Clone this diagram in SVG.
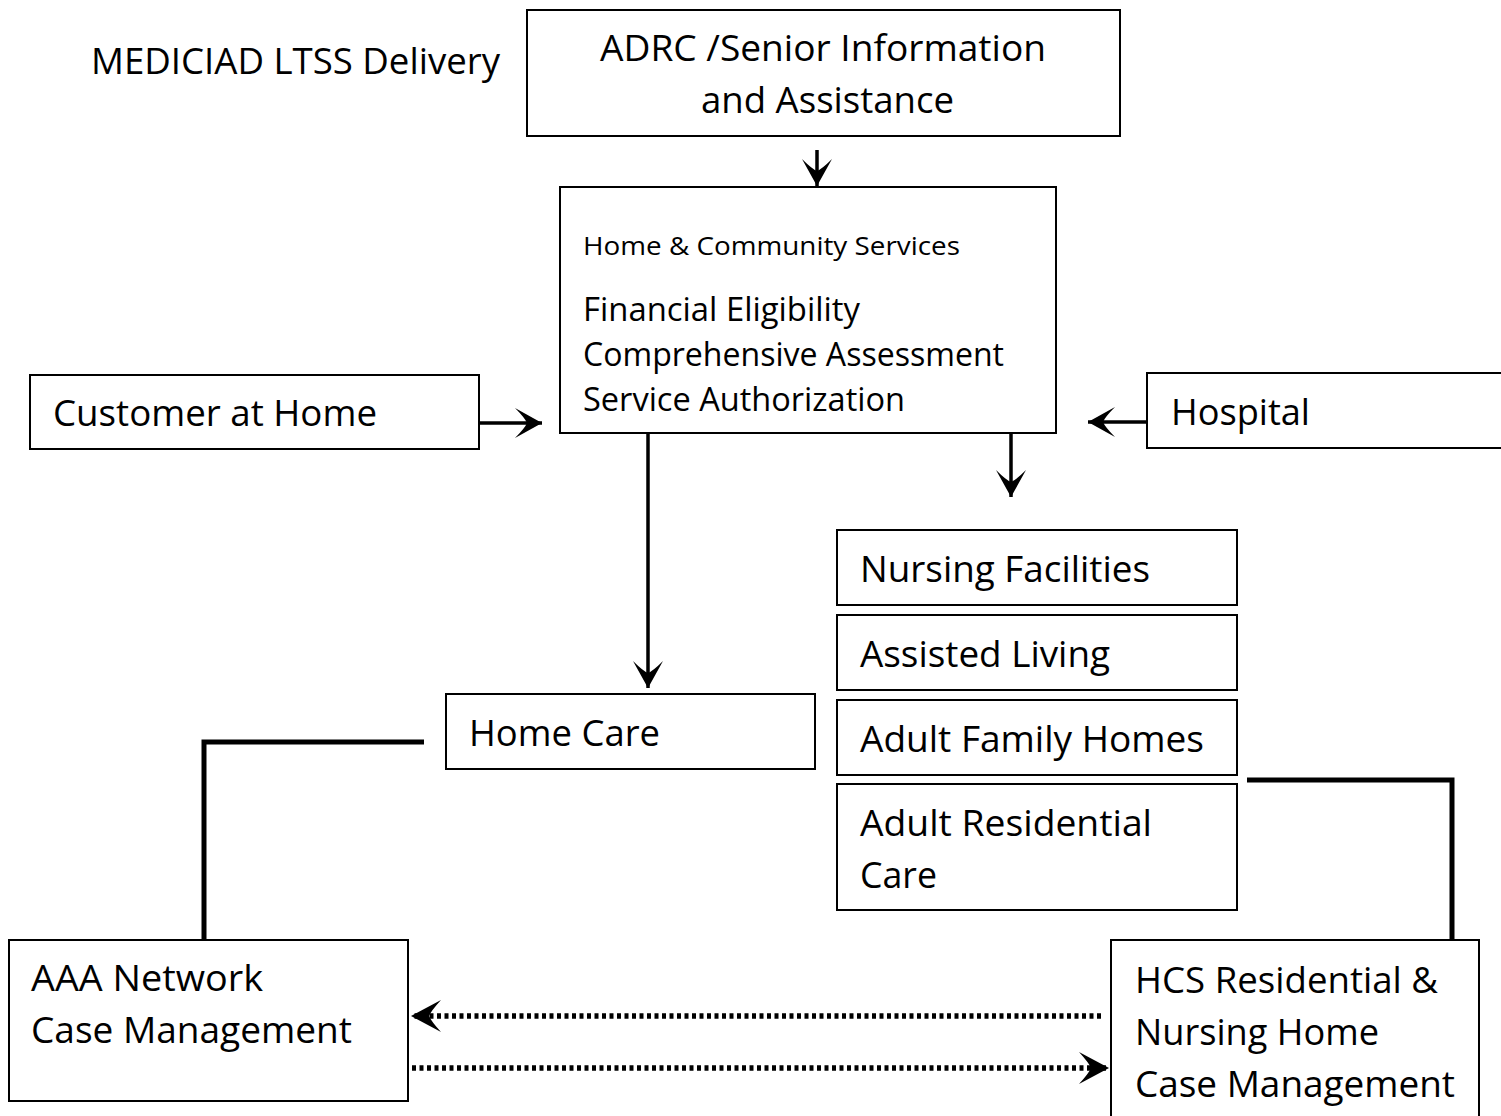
<svg xmlns="http://www.w3.org/2000/svg" width="1501" height="1116" viewBox="0 0 1501 1116">
  <style>
    .box { fill: #ffffff; stroke: #000000; stroke-width: 2; }
    .lbl { font-family: "Open Sans", "Noto Sans", "Liberation Sans", sans-serif; font-size: 37px; fill: #000000; }
    .sm { font-size: 26px; }
    .mid { font-size: 33px; }
    .arrow { fill: none; stroke: #000000; stroke-width: 3.5; marker-end: url(#stealth); }
    .link { fill: none; stroke: #000000; stroke-width: 5; }
    .dots { fill: none; stroke: #000000; stroke-width: 5.5; stroke-dasharray: 4 3.5; marker-end: url(#stealth-lg); }
  </style>
  <defs>
    <marker id="stealth" markerUnits="userSpaceOnUse" viewBox="-30 -17 32 34" refX="0" refY="0" markerWidth="32" markerHeight="34" orient="auto">
      <path d="M0,0 L-27,-15 Q-17,-5 -15,0 Q-17,5 -27,15 Z" fill="#000000"/>
    </marker>
    <marker id="stealth-lg" markerUnits="userSpaceOnUse" viewBox="-34 -18 36 36" refX="0" refY="0" markerWidth="36" markerHeight="36" orient="auto">
      <path d="M0,0 L-30,-16 Q-20,-5 -18,0 Q-20,5 -30,16 Z" fill="#000000"/>
    </marker>
  </defs>
  <rect width="1501" height="1116" fill="#ffffff"/>

  <text class="lbl" x="91" y="74" textLength="409" lengthAdjust="spacingAndGlyphs">MEDICIAD LTSS Delivery</text>

  <g id="connectors">
    <line class="arrow" x1="817" y1="150" x2="817" y2="186"/>
    <line class="arrow" x1="479" y1="423" x2="542" y2="423"/>
    <line class="arrow" x1="1147" y1="422" x2="1088" y2="422"/>
    <line class="arrow" x1="1011" y1="433" x2="1011" y2="497"/>
    <line class="arrow" x1="648" y1="433" x2="648" y2="688"/>
    <polyline class="link" points="424,742 204,742 204,940"/>
    <polyline class="link" points="1247,780 1452,780 1452,940"/>
    <line class="dots" x1="1101" y1="1016" x2="411" y2="1016"/>
    <line class="dots" x1="412" y1="1068" x2="1109" y2="1068"/>
  </g>

  <g id="adrc">
    <rect class="box" x="527" y="10" width="593" height="126"/>
    <text class="lbl" x="600" y="61" textLength="446" lengthAdjust="spacingAndGlyphs">ADRC /Senior Information</text>
    <text class="lbl" x="701" y="113" textLength="253" lengthAdjust="spacingAndGlyphs">and Assistance</text>
  </g>

  <g id="hcs">
    <rect class="box" x="560" y="187" width="496" height="246"/>
    <text class="lbl sm" x="583" y="255" textLength="377" lengthAdjust="spacingAndGlyphs">Home &amp; Community Services</text>
    <text class="lbl mid" x="583" y="321" textLength="277" lengthAdjust="spacingAndGlyphs">Financial Eligibility</text>
    <text class="lbl mid" x="583" y="366" textLength="421" lengthAdjust="spacingAndGlyphs">Comprehensive Assessment</text>
    <text class="lbl mid" x="583" y="411" textLength="322" lengthAdjust="spacingAndGlyphs">Service Authorization</text>
  </g>

  <g id="customer">
    <rect class="box" x="30" y="375" width="449" height="74"/>
    <text class="lbl" x="53" y="426" textLength="324" lengthAdjust="spacingAndGlyphs">Customer at Home</text>
  </g>

  <g id="hospital">
    <rect class="box" x="1147" y="373" width="360" height="75"/>
    <text class="lbl" x="1171" y="425" textLength="139" lengthAdjust="spacingAndGlyphs">Hospital</text>
  </g>

  <g id="home-care">
    <rect class="box" x="446" y="694" width="369" height="75"/>
    <text class="lbl" x="469" y="746" textLength="191" lengthAdjust="spacingAndGlyphs">Home Care</text>
  </g>

  <g id="nursing-facilities">
    <rect class="box" x="837" y="530" width="400" height="75"/>
    <text class="lbl" x="860" y="582" textLength="290" lengthAdjust="spacingAndGlyphs">Nursing Facilities</text>
  </g>

  <g id="assisted-living">
    <rect class="box" x="837" y="615" width="400" height="75"/>
    <text class="lbl" x="860" y="667" textLength="250" lengthAdjust="spacingAndGlyphs">Assisted Living</text>
  </g>

  <g id="adult-family-homes">
    <rect class="box" x="837" y="700" width="400" height="75"/>
    <text class="lbl" x="860" y="752" textLength="344" lengthAdjust="spacingAndGlyphs">Adult Family Homes</text>
  </g>

  <g id="adult-residential-care">
    <rect class="box" x="837" y="784" width="400" height="126"/>
    <text class="lbl" x="860" y="836" textLength="292" lengthAdjust="spacingAndGlyphs">Adult Residential</text>
    <text class="lbl" x="860" y="888" textLength="77" lengthAdjust="spacingAndGlyphs">Care</text>
  </g>

  <g id="aaa-case-management">
    <rect class="box" x="9" y="940" width="399" height="161"/>
    <text class="lbl" x="31" y="991" textLength="232" lengthAdjust="spacingAndGlyphs">AAA Network</text>
    <text class="lbl" x="31" y="1043" textLength="321" lengthAdjust="spacingAndGlyphs">Case Management</text>
  </g>

  <g id="hcs-case-management">
    <rect class="box" x="1111" y="940" width="368" height="190"/>
    <text class="lbl" x="1135" y="993" textLength="303" lengthAdjust="spacingAndGlyphs">HCS Residential &amp;</text>
    <text class="lbl" x="1135" y="1045" textLength="244" lengthAdjust="spacingAndGlyphs">Nursing Home</text>
    <text class="lbl" x="1135" y="1097" textLength="320" lengthAdjust="spacingAndGlyphs">Case Management</text>
  </g>
</svg>
